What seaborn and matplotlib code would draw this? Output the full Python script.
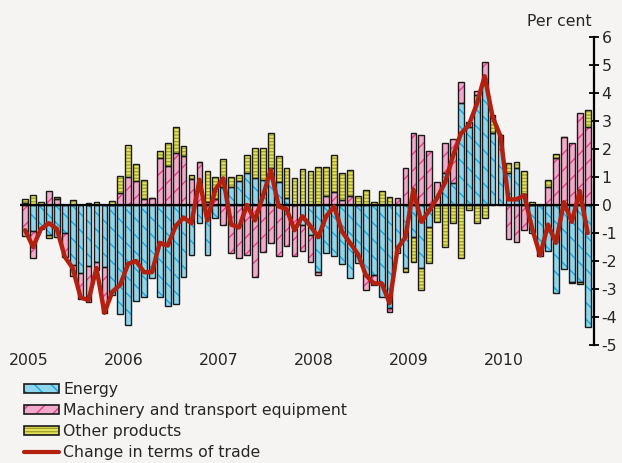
import numpy as np
import pandas as pd
import matplotlib
matplotlib.use("Agg")
import matplotlib.pyplot as plt
import seaborn as sns
from matplotlib.patches import Patch
from matplotlib.lines import Line2D
from matplotlib.legend_handler import HandlerTuple

# ---- data (monthly, Jan 2005 - Dec 2010), per cent contributions ----
years = ["2005", "2006", "2007", "2008", "2009", "2010"]

energy = [0.08, -0.93, -0.85, -1.07, -1.13, -1.00, -2.14, -2.42, -2.18, -2.02, -2.23, -3.20,
          -3.90, -4.29, -3.42, -3.27, -2.62, -3.27, -3.60, -3.54, -2.56, -1.79, -0.63, -1.79,
          -0.48, 0.65, 0.65, 0.86, 1.13, 0.95, 0.89, 1.31, 0.83, 0.26, 0.00, -0.71,
          -1.07, -2.40, -1.72, -1.82, -2.12, -2.62, -2.08, -2.50, -2.50, -3.27, -3.69, -1.55,
          -2.26, -1.13, -2.26, -0.77, 0.00, 1.13, 0.77, 3.63, 2.80, 3.93, 4.35, 2.56,
          2.40, 1.13, 1.33, 0.40, -1.00, -1.82, -1.64, -3.15, -2.30, -2.74, -2.74, -4.35]

machinery = [-1.10, -0.95, 0.00, 0.50, 0.20, -0.87, -0.40, -0.92, -1.27, -0.30, -1.64, 0.00,
             0.42, 1.01, 0.86, 0.20, 0.26, 1.67, 1.40, 1.87, 1.75, 0.92, 1.55, 0.12,
             0.20, -0.71, -1.70, -1.88, -1.79, -2.56, -1.67, -1.37, -1.82, -1.47, -1.82, -0.95,
             -0.95, -0.10, 0.32, 0.48, 0.18, 0.32, 0.00, -0.54, -0.36, 0.00, -0.12, 0.26,
             1.31, 2.58, 2.50, 1.94, 0.83, 1.07, 1.60, 0.77, 0.18, 0.15, 0.74, 0.00,
             0.10, -1.23, -1.31, -0.90, 0.00, 0.00, 0.65, 1.67, 2.44, 2.20, 3.30, 2.80]

other = [0.15, 0.35, 0.10, -0.12, 0.10, 0.00, 0.18, 0.00, 0.08, 0.10, 0.00, 0.15,
         0.62, 1.15, 0.60, 0.71, 0.00, 0.27, 0.80, 0.93, 0.37, 0.15, 0.00, 1.10,
         0.80, 1.00, 0.36, 0.21, 0.65, 1.10, 1.15, 1.25, 0.92, 1.07, 0.95, 1.30,
         1.20, 1.35, 1.05, 1.31, 0.97, 0.93, 0.33, 0.54, 0.12, 0.51, 0.30, -0.18,
         -0.15, -0.89, -0.77, -1.30, -0.60, -1.49, -0.65, -1.90, -0.18, -0.65, -0.48, 0.65,
         0.00, 0.36, 0.19, 0.80, 0.10, 0.00, 0.26, 0.15, 0.00, -0.06, -0.08, 0.60]

terms_of_trade = [-0.90, -1.50, -0.85, -0.65, -0.85, -1.85, -2.25, -3.30, -3.40, -2.25, -3.85, -3.10,
                  -2.85, -2.10, -2.00, -2.40, -2.40, -1.35, -1.45, -0.75, -0.45, -0.65, 0.90, -0.55,
                  0.55, 0.95, -0.70, -0.80, 0.00, -0.55, 0.30, 1.25, -0.05, -0.15, -0.90, -0.40,
                  -0.75, -1.15, -0.40, -0.05, -0.95, -1.35, -1.75, -2.50, -2.80, -2.80, -3.50, -1.55,
                  -1.15, 0.55, -0.60, -0.20, 0.25, 0.80, 1.75, 2.55, 2.85, 3.60, 4.60, 3.15,
                  2.45, 0.20, 0.20, 0.35, -0.85, -1.80, -0.70, -1.35, 0.10, -0.60, 0.50, -1.00]

series_names = ["Energy", "Machinery and transport equipment", "Other products"]
line_name = "Change in terms of trade"

# ---- styling ----
bg = "#f5f4f2"
fills = ["#8dd6ee", "#f3a9c9", "#e4e45c"]
hatch_cols = ["#12a9e2", "#e83d8c", "#a3a32a"]
hatches = ["\\\\", "//", "-----"]

sns.set_theme(style="white")
plt.rcParams["font.family"] = ["DejaVu Sans"]
plt.rcParams["hatch.linewidth"] = 1.0

fig = plt.figure(figsize=(6.22, 4.63), dpi=100, facecolor=bg)
ax = fig.add_axes([20 / 622, 1 - 345 / 463, (594 - 20) / 622, (345 - 37) / 463])
ax.set_facecolor(bg)

n = len(energy)
x = np.arange(n)
width = 0.72

pos_base = np.zeros(n)
neg_base = np.zeros(n)
for vals, fc, hc, h in zip([energy, machinery, other], fills, hatch_cols, hatches):
    v = np.asarray(vals, dtype=float)
    bottom = np.where(v >= 0, pos_base, neg_base)
    ax.bar(x, v, width=width, bottom=bottom, color=fc, edgecolor=hc,
           hatch=h, linewidth=0, zorder=2)
    ax.bar(x, v, width=width, bottom=bottom, facecolor="none",
           edgecolor="#1a1a1a", linewidth=1.0, zorder=3)
    pos_base = pos_base + np.where(v > 0, v, 0)
    neg_base = neg_base + np.where(v < 0, v, 0)

ax.axhline(0, color="black", lw=1.6, zorder=4)

df_line = pd.DataFrame({"x": x, "value": terms_of_trade})
sns.lineplot(data=df_line, x="x", y="value", ax=ax, color="#b3200e",
             lw=3.2, zorder=5, legend=False)

ax.set_xlim(-0.65, n - 0.2)
ax.set_ylim(-5, 6)
ax.set_yticks(range(-5, 7))
ax.set_yticklabels([str(v) for v in range(-5, 7)])
ax.yaxis.tick_right()
ax.tick_params(axis="y", direction="inout", length=7, width=1.3, color="black",
               labelsize=11.3, pad=2, right=True, left=False)
ax.set_xticks([12 * i + 0.4 for i in range(len(years))])
ax.set_xticklabels(years)
ax.tick_params(axis="x", length=0, labelsize=11.3, pad=6)
ax.set_xlabel("")
ax.set_ylabel("")
for s in ["top", "left", "bottom"]:
    ax.spines[s].set_visible(False)
ax.spines["right"].set_color("black")
ax.spines["right"].set_linewidth(1.6)

fig.text(592 / 622, 1 - 22 / 463, "Per cent", ha="right", va="center", fontsize=11.3)

handles = []
for fc, hc, h in zip(fills, hatch_cols, hatches):
    p1 = Patch(facecolor=fc, edgecolor=hc, hatch=h, linewidth=0)
    p2 = Patch(facecolor="none", edgecolor="#1a1a1a", linewidth=1.2)
    handles.append((p1, p2))
handles.append(Line2D([0], [0], color="#b3200e", lw=3))
fig.legend(handles, series_names + [line_name], loc="upper left",
           bbox_to_anchor=(24 / 622, 1 - 382 / 463), frameon=False,
           fontsize=11.3, labelspacing=0.38, handlelength=2.2, handleheight=0.55,
           handletextpad=0.3, borderaxespad=0, borderpad=0,
           handler_map={tuple: HandlerTuple(ndivide=1, pad=0)})

fig.savefig("out.png", dpi=100, facecolor=bg)
